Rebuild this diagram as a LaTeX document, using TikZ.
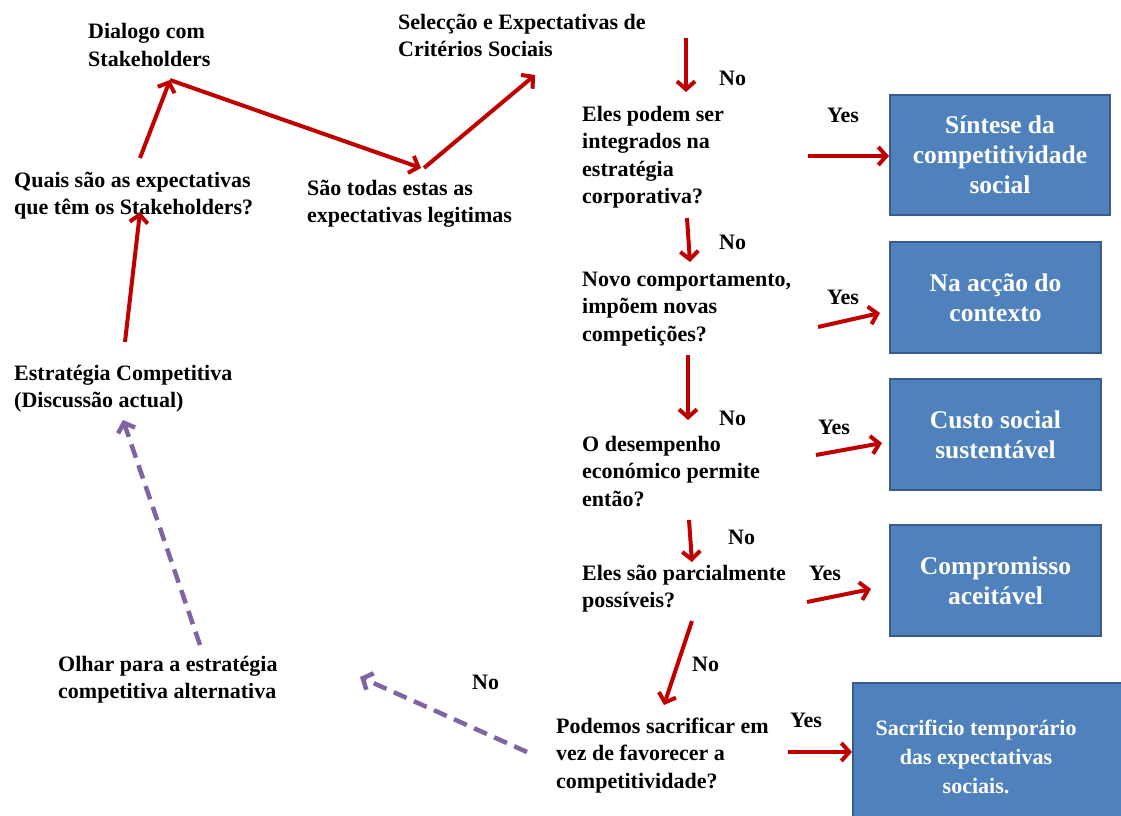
\documentclass[tikz,border=0pt]{standalone}
\usepackage{fontspec}
\setmainfont{Liberation Serif}
\usetikzlibrary{positioning,arrows.meta}
\definecolor{arrowred}{HTML}{C00000}
\definecolor{altpurple}{HTML}{8064A2}
\definecolor{boxblue}{HTML}{4F81BD}
\definecolor{boxline}{HTML}{385D8A}
\begin{document}
\begin{tikzpicture}[x=1pt,y=-1pt,
		txt/.style={anchor=base west,align=left,inner sep=0pt,font=\fontsize{22}{27.5}\selectfont\bfseries},
		lbl/.style={anchor=base west,inner sep=0pt,font=\fontsize{22}{24}\selectfont\bfseries},
		box/.style={rectangle,draw=boxline,line width=2pt,fill=boxblue,text=white,align=center,
			font=\fontsize{25.5}{30}\selectfont\bfseries,minimum width=211pt,minimum height=111pt},
		go/.style={draw=arrowred,line width=4pt,-{Straight Barb[length=8pt,width=18pt]}},
		alt/.style={draw=altpurple,line width=4.5pt,dash pattern=on 14pt off 8pt,-{Straight Barb[length=8pt,width=18pt]}}]
	\useasboundingbox (0,0) rectangle (1121,816);

	% left loop
	\node[txt]	(0)	at (14,407.5)	{Estratégia Competitiva\\(Discussão actual)};
	\node[txt]	(1)	at (14,214.5)	{Quais são as expectativas\\que têm os Stakeholders?};
	\node[txt]	(2)	at (88,66.5)	{Dialogo com\\Stakeholders};
	\node[txt]	(3)	at (307,222.5)	{São todas estas as\\expectativas legitimas};
	\node[txt]	(4)	at (398,56.5)	{Selecção e Expectativas de\\Critérios Sociais};
	\node[txt]	(5)	at (58,698.5)	{Olhar para a estratégia\\competitiva alternativa};

	% questions
	\node[txt]	(10)	at (582,203.5)	{Eles podem ser\\integrados na\\estratégia\\corporativa?};
	\node[txt]	(11)	at (582,341)	{Novo comportamento,\\impõem novas\\competições?};
	\node[txt]	(12)	at (582,506)	{O desempenho\\económico permite\\então?};
	\node[txt]	(13)	at (582,607.5)	{Eles são parcialmente\\possíveis?};
	\node[txt]	(14)	at (556,788)	{Podemos sacrificar em\\vez de favorecer a\\competitividade?};

	% outcomes
	\node[box,minimum width=220pt,minimum height=120pt]	(20)	at (1000,155)	{Síntese da\\competitividade\\social};
	\node[box]	(21)	at (995.5,297.5)	{Na acção do\\contexto};
	\node[box]	(22)	at (995.5,434.5)	{Custo social\\sustentável};
	\node[box]	(23)	at (995.5,580.5)	{Compromisso\\aceitável};
	\node[box,minimum width=290pt,minimum height=150pt,anchor=north west,font=\fontsize{22}{30}\selectfont\bfseries]	(24)	at (852,682)
		{\begin{tabular}{@{}c@{\hspace{44pt}}}Sacrificio temporário\\[-1pt]das expectativas\\[-1pt]sociais.\end{tabular}};

	% labels
	\node[lbl]	(30)	at (719,85)		{No};
	\node[lbl]	(31)	at (719,249)	{No};
	\node[lbl]	(32)	at (719,425)	{No};
	\node[lbl]	(33)	at (728,544)	{No};
	\node[lbl]	(34)	at (692,671)	{No};
	\node[lbl]	(35)	at (472,689)	{No};
	\node[lbl]	(40)	at (827,122)	{Yes};
	\node[lbl]	(41)	at (827,304)	{Yes};
	\node[lbl]	(42)	at (818,434)	{Yes};
	\node[lbl]	(43)	at (809,580)	{Yes};
	\node[lbl]	(44)	at (790,727)	{Yes};

	% free ends
	\coordinate (a0) at (125,342);	\coordinate (b0) at (140,212);
	\coordinate (a1) at (140,158);	\coordinate (b1) at (170,80);
	\coordinate (b2) at (421,168);
	\coordinate (a3) at (424,168);	\coordinate (b3) at (535,75);
	\coordinate (a4) at (686,38);	\coordinate (b4) at (686,92);
	\coordinate (a5) at (808,156);
	\coordinate (a6) at (687,218);	\coordinate (b6) at (690,262);
	\coordinate (a7) at (818,327);	\coordinate (b7) at (880,313);
	\coordinate (a8) at (688,355);	\coordinate (b8) at (688,420);
	\coordinate (a9) at (816,455);	\coordinate (b9) at (882,443);
	\coordinate (a10) at (689,520);	\coordinate (b10) at (692,562);
	\coordinate (a11) at (807,602);	\coordinate (b11) at (871,589);
	\coordinate (a12) at (692,621);	\coordinate (b12) at (664,705);
	\coordinate (a13) at (788,752);
	\coordinate (p0) at (527,752);	\coordinate (q0) at (360,677);
	\coordinate (p1) at (200,645);	\coordinate (q1) at (123,420);

	\draw[go] (a0) -- (b0);
	\draw[go] (a1) -- (b1);
	\draw[go] (b1) -- (b2);
	\draw[go] (a3) -- (b3);
	\draw[go] (a4) -- (b4);
	\draw[go] (a5) -- (a5 -| 20.west);
	\draw[go] (a6) -- (b6);
	\draw[go] (a7) -- (b7);
	\draw[go] (a8) -- (b8);
	\draw[go] (a9) -- (b9);
	\draw[go] (a10) -- (b10);
	\draw[go] (a11) -- (b11);
	\draw[go] (a12) -- (b12);
	\draw[go] (a13) -- (a13 -| 24.west);
	\draw[alt] (p0) -- (q0);
	\draw[alt] (p1) -- (q1);
\end{tikzpicture}
\end{document}
